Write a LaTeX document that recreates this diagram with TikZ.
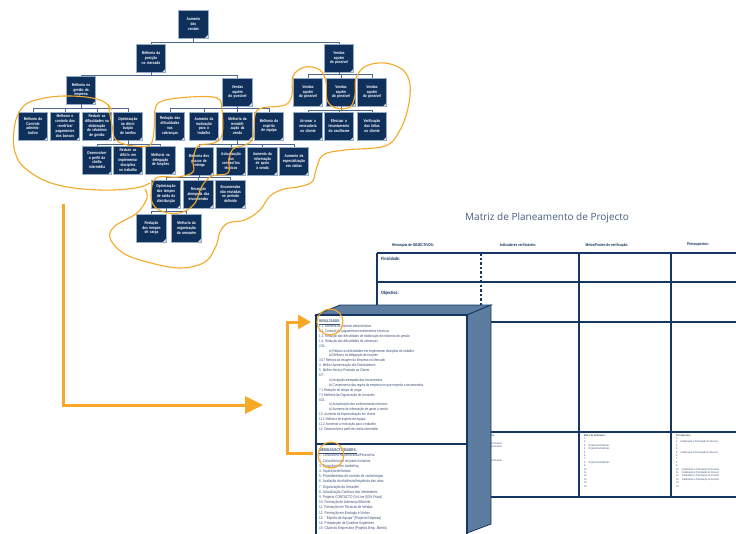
\documentclass[tikz,border=0pt]{standalone}
\usepackage{fontspec}
\setmainfont{Liberation Sans}
\newfontfamily\condf[FakeStretch=0.78]{Liberation Sans}
\newfontfamily\titlef{Open Sans}
\usetikzlibrary{calc,arrows.meta}
\definecolor{navy}{RGB}{16,48,92}
\definecolor{edgeb}{RGB}{150,172,198}
\definecolor{conncol}{RGB}{75,105,145}
\definecolor{orng}{RGB}{246,168,38}
\definecolor{slate}{RGB}{92,124,160}
\definecolor{slatetxt}{RGB}{70,95,130}
\definecolor{txtb}{RGB}{60,80,118}
\definecolor{lineb}{RGB}{22,55,98}
\tikzset{
  tbox/.style={draw=edgeb, line width=0.6pt, fill=navy, text=white,
    minimum width=29pt, minimum height=28pt, inner sep=0.5pt, text width=28.5pt,
    align=center, font=\condf\bfseries\fontsize{4.1}{4.8}\selectfont,
    path picture={\fill[white!80!navy] ($(path picture bounding box.south east)+(-3.5pt,0)$) -- ($(path picture bounding box.south east)+(0,3.5pt)$) -- (path picture bounding box.south east) -- cycle;}},
  conn/.style={draw=conncol, line width=0.9pt},
  ocurve/.style={draw=orng, line width=1.1pt},
  oarrow/.style={draw=orng, line width=3pt, -{Triangle[length=18pt,width=17pt]}},
  oarrowb/.style={draw=orng, line width=3pt, -{Triangle[length=13pt,width=14pt]}},
  ocircle/.style={draw=orng, line width=1.1pt, circle, minimum size=26pt, inner sep=0pt},
  mline/.style={draw=lineb, line width=1.5pt},
  mhead/.style={font=\condf\bfseries\fontsize{4}{4.5}\selectfont, text=navy, inner sep=0pt},
  mlab/.style={font=\condf\bfseries\fontsize{4.6}{5}\selectfont, text=navy, inner sep=0pt, anchor=west},
  tiny/.style={font=\condf\fontsize{2.7}{3.4}\selectfont, text=txtb, inner sep=0pt, align=left},
  ftext/.style={font=\condf\fontsize{3.8}{4.9}\selectfont, text=txtb, inner sep=0pt, align=left, anchor=north west},
}
\begin{document}
\begin{tikzpicture}[x=1pt,y=-1pt]
\useasboundingbox (0,0) rectangle (736,533);
\clip (0,0) rectangle (736,533);
\fill[white] (0,0) rectangle (736,533);

% ---------- Matrix (behind) ----------
\node[font=\titlef\fontsize{10}{12}\selectfont, text=slatetxt, anchor=west, inner sep=0pt] (title) at (465,218) {Matriz de Planeamento de Projecto};
\node[mhead] (h1) at (413,245) {Hierarquia de OBJECTIVOS:};
\node[mhead] (h2) at (518,245) {Indicadores verificáveis:};
\node[mhead] (h3) at (607,245) {Meios/Fontes de verificação:};
\node[mhead] (h4) at (698,245) {Pressupostos:};
\draw[mline] (377,253) -- (740,253);
\draw[mline] (377,282) -- (740,282);
\draw[mline] (377,322) -- (740,322);
\draw[mline] (377,432) -- (740,432);
\draw[mline] (377,497) -- (740,497);
\draw[mline] (377,253) -- (377,497);
\draw[mline] (579,253) -- (579,497);
\draw[mline] (671,253) -- (671,497);
\draw[draw=lineb, line width=1.3pt, dash pattern=on 2.5pt off 2pt] (481,253) -- (481,497);
\node[mlab] (fin) at (381,259) {Finalidade:};
\node[mlab] (obj) at (381,293) {Objectivo:};
\node[tiny, anchor=north east] (c1t) at (502,434) {\textbf{Indicadores:}\\[5pt] Informações Exactas\\ Informações Exactas\\[10pt] Informações Exactas};
\node[tiny, anchor=north west] (c2t) at (584,434) {\textbf{Meios de Verificação:}\\1.\\2.\\3.\quad Orçamentos/Sistemas\\4.\quad Orçamentos/Sistemas\\5.\\6.\\7.\\8.\quad Orçamentos/Sistemas\\9.\\10.\\11.\\12.\\13.\\14.\\15.};
\node[tiny, anchor=north west] (c3t) at (676,434) {\textbf{Pressupostos:}\\1.\\2.\quad Colaboração e Participação do Pessoal\\3.\\4.\\5.\quad Colaboração e Participação do Pessoal\\6.\\7.\\8.\\9.\\10.\quad Colaboração e Participação do Pessoal\\11.\quad Colaboração e Participação do Pessoal\\12.\quad Colaboração e Participação do Pessoal\\13.\quad Colaboração e Participação do Pessoal\\14.\\15.};

% ---------- 3D box ----------
\filldraw[fill=slate, draw=lineb, line width=0.8pt] (316,315) -- (340,305) -- (491,305) -- (467,315) -- cycle;
\filldraw[fill=slate, draw=lineb, line width=0.8pt] (467,315) -- (491,305) -- (491,524) -- (467,533) -- cycle;
\filldraw[fill=white, draw=lineb, line width=1.5pt] (316,315) rectangle (467,545);
\draw[mline] (316,444) -- (467,444);
\node[ftext] (res) at (319,319.8) {\underline{\textbf{RESULTADOS:}}\\
1.1. Melhoria do controlo administrativo\\
1.2. Controlo de pagamentos/recebimentos e bancos\\
1.3. Redução das dificuldades de elaboração de relatórios de gestão\\
1.4. Redução das dificuldades de cobranças\\
2/11:\\
\hspace*{10pt}a) Reduzir as dificuldades em implementar disciplina de trabalho\\
\hspace*{10pt}b) Melhoria na delegação de funções\\
3/17 Reforço da Imagem da Empresa no Mercado\\
4. Melhor Apresentação dos Distribuidores\\
5. Melhor Serviço Prestado ao Cliente\\
6/7:\\
\hspace*{10pt}a) recepção atempada das encomendas\\
\hspace*{10pt}b) Cumprimento das regras da empresa no que respeita a encomendas\\
7.1 Redução do tempo de carga\\
7.2 Melhoria da Organização do Armazém\\
8/11:\\
\hspace*{10pt}a) Actualização dos conhecimentos técnicos\\
\hspace*{10pt}b) Aumento da informação de apoio à venda\\
10. Aumento da Especialização em Visitas\\
11.1 Melhoria do espírito de equipa\\
11.2 Aumentar a motivação para o trabalho\\
14. Desenvolver o perfil de chefia intermédia};
\node[ftext, font=\condf\fontsize{4}{5.2}\selectfont] (med) at (319,448.5) {\underline{\textbf{MEDIDAS/ACTIVIDADES:}}\\
1. Consultoria Administrativa/Financeira\\
2. Consultoria em recursos humanos\\
3. Consultoria em marketing\\
4. Aquisição de bolsas\\
5. Procedimentos de controlo de vas/entregas\\
6. Avaliação da eficiência/frequência das rotas\\
7. Organização do Armazém\\
8. Actualização Contínua dos Vendedores\\
9. Projecto CONTACTO On Line (50\% Prazo)\\
10. Formação de Liderança Eficiente\\
11. Formação em Técnicas de Vendas\\
12. Formação em Enologia e Vinhos\\
13. ``Espírito de Equipa'' (Projecto Empresa)\\
14. Prospecção de Quadros Superiores\\
15. Clube do Empresário (Projecto Emp. Aberto)};

% ---------- Tree ----------
\node[tbox] (r) at (193.5,24) {Aumento\\das\\vendas};
\node[tbox] (a) at (151,58) {Melhoria da\\posição\\no mercado};
\node[tbox] (b) at (339,58) {Vendas\\aquém\\do possível};
\node[tbox] (a1) at (81,90) {Melhoria na\\gestão da\\empresa};
\node[tbox] (a2) at (237.5,92) {Vendas\\aquém\\do possível};
\node[tbox] (b1) at (308,92) {Vendas\\aquém\\do possível};
\node[tbox] (b2) at (341,92) {Vendas\\aquém\\do possível};
\node[tbox] (b3) at (372,92) {Vendas\\aquém\\do possível};
\node[tbox] (a11) at (33,126) {Melhoria do\\Controlo\\adminis-\\trativo};
\node[tbox] (a12) at (65,126) {Melhorar o\\controlo dos\\receb'tos/\\pagamentos\\dos bancos};
\node[tbox] (a13) at (97,126) {Reduzir as\\dificuldades na\\elaboração\\de relatórios\\de gestão};
\node[tbox] (a14) at (128,126) {Optimização\\na distri-\\buição\\de tarefas};
\node[tbox] (a21) at (170,126) {Redução das\\dificuldades\\nas\\cobranças};
\node[tbox] (a22) at (204,126) {Aumento da\\motivação\\para o\\trabalho};
\node[tbox] (a23) at (237.5,126) {Melhoria da\\rentabili-\\zação da\\venda};
\node[tbox] (a24) at (269,126) {Melhoria do\\espírito\\de equipa};
\node[tbox] (b21) at (308,126) {Arrumar a\\mercadoria\\no cliente};
\node[tbox] (b22) at (339,126) {Efectuar o\\levantamento\\do vasilhame};
\node[tbox] (b23) at (372,126) {Verificação\\das faltas\\no cliente};
\node[tbox] (a141) at (97,160) {Desenvolver\\o perfil da\\chefia\\intermédia};
\node[tbox] (a142) at (128,160) {Reduzir as\\dific'/s em\\implementar\\disciplina\\no trabalho};
\node[tbox] (a143) at (160.5,160) {Melhoria na\\delegação\\de funções};
\node[tbox] (a231) at (199,161) {Melhoria dos\\prazos de\\entrega};
\node[tbox] (a232) at (231,161) {Actualização\\dos\\conheci'tos\\técnicos};
\node[tbox] (a233) at (262.5,161) {Aumento da\\informação\\de apoio\\à venda};
\node[tbox] (a234) at (294,161) {Aumento da\\especialização\\em visitas};
\node[tbox] (a2311) at (166,194) {Optimização\\dos tempos\\de saída da\\distribuição};
\node[tbox] (a2312) at (198.5,194) {Recepção\\atempada das\\encomendas};
\node[tbox] (a2313) at (230.5,194) {Encomendas\\não enviadas\\no período\\definido};
\node[tbox] (a23111) at (151.5,228) {Redução\\dos tempos\\de carga};
\node[tbox] (a23112) at (186.5,228) {Melhoria da\\organização\\do armazém};

\foreach \c in {a,b} \draw[conn] (r.south) -- ++(0,4) -| (\c.north);
\foreach \c in {a1,a2} \draw[conn] (a.south) -- ++(0,3) -| (\c.north);
\foreach \c in {b1,b2,b3} \draw[conn] (b.south) -- ++(0,2) -| (\c.north);
\foreach \c in {a11,a12,a13,a14} \draw[conn] (a1.south) -- ++(0,4) -| (\c.north);
\foreach \c in {a21,a22,a23,a24} \draw[conn] (a2.south) -- ++(0,2) -| (\c.north);
\foreach \c in {b21,b22,b23} \draw[conn] (b2.south) -- ++(0,4) -| (\c.north);
\foreach \c in {a141,a142,a143} \draw[conn] (a14.south) -- ++(0,4) -| (\c.north);
\foreach \c in {a231,a232,a233,a234} \draw[conn] (a23.south) -- ++(0,4) -| (\c.north);
\foreach \c in {a2311,a2312,a2313} \draw[conn] (a231.south) -- ++(0,2) -| (\c.north);
\foreach \c in {a23111,a23112} \draw[conn] (a2311.south) -- ++(0,3) -| (\c.north);

% ---------- orange annotations ----------
\draw[ocurve] plot[smooth, tension=0.7] coordinates {(112,110) (100,100) (70,96) (40,99) (22,108) (14,130) (16,155) (30,172) (58,185) (100,190) (135,188) (150,183)};
\draw[ocurve] plot[smooth, tension=0.6] coordinates {(108,104) (112,125) (116,140) (133,146) (150,145) (154,130) (155,110) (162,101) (190,97) (217,98) (222,110) (222,135) (214,143) (198,146) (193,160) (193,172) (178,177) (156,178) (151,195) (155,207) (168,213) (183,212) (195,203) (202,186) (212,176) (228,173) (229,160) (233,149) (245,145) (253,138) (255,115) (262,108) (285,105) (292,95) (293,76) (305,67) (320,70) (326,82) (327,100) (336,108) (350,107) (355,95) (356,78) (366,66) (385,63) (403,70) (410,85) (408,108) (400,130) (385,146) (345,150) (323,155) (316,170) (312,182) (298,187) (284,189) (270,196) (260,210) (245,220) (228,223) (220,232) (216,246) (205,262) (180,268) (147,262) (123,253) (110,238) (115,226) (137,213) (147,198) (145,189)};

\coordinate (p1) at (63,204);
\coordinate (p2) at (263,405);
\draw[oarrow] (p1) |- (p2);
\coordinate (q1) at (313,453);
\coordinate (q2) at (287,453);
\coordinate (q3) at (311,322);
\draw[oarrowb] (q1) -- (q2) |- (q3);
\node[ocircle] (cres) at (330,322) {};
\node[ocircle] (cmed) at (331,455) {};
\end{tikzpicture}
\end{document}
